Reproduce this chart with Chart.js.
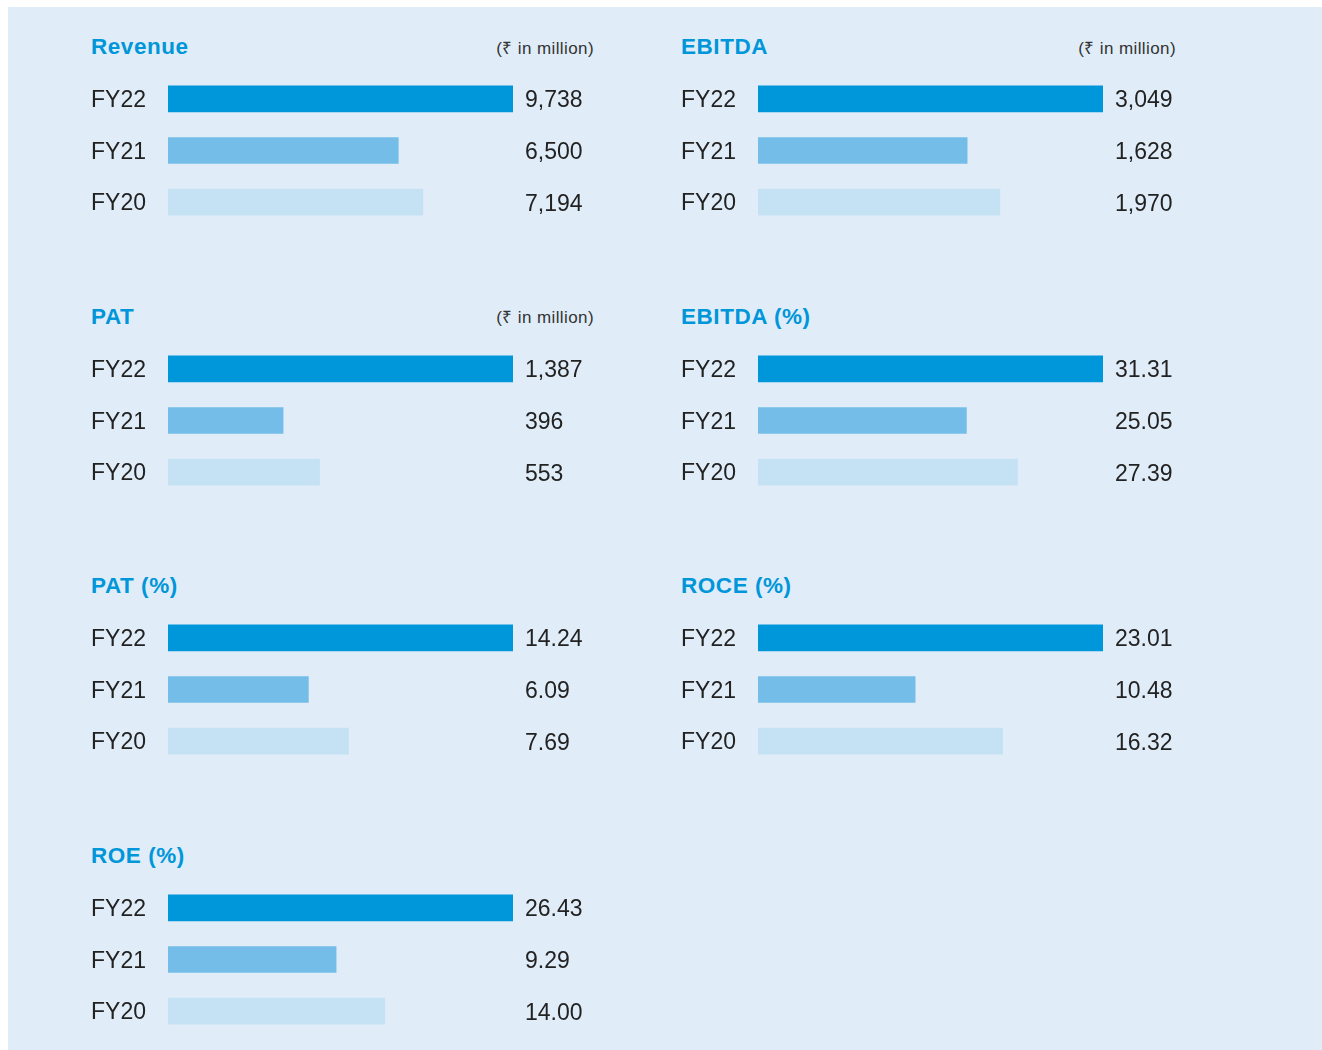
<!DOCTYPE html>
<html><head><meta charset="utf-8">
<script src="https://cdn.jsdelivr.net/npm/chart.js@4"></script>
<style>
html,body{margin:0;padding:0;background:#fff;}
#bg{position:absolute;left:8px;top:7px;width:1314px;height:1043px;background:#E0EDF8;}
.title{position:absolute;font-family:"Liberation Sans";font-weight:bold;font-size:22.5px;line-height:22px;letter-spacing:0.55px;color:#0096DA;white-space:nowrap;}
.unit{position:absolute;font-family:"Liberation Sans";font-size:17px;line-height:17px;letter-spacing:0.4px;color:#333;white-space:nowrap;text-align:right;width:200px;}
canvas{position:absolute;}
</style></head><body>
<div id="bg"></div>
<script>
const categories = ['FY22', 'FY21', 'FY20'];
const revenue = [9738, 6500, 7194];
const ebitda = [3049, 1628, 1970];
const pat = [1387, 396, 553];
const ebitdaPct = [31.31, 25.05, 27.39];
const patPct = [14.24, 6.09, 7.69];
const rocePct = [23.01, 10.48, 16.32];
const roePct = [26.43, 9.29, 14.00];
const unitLabel = '(₹ in million)';

const barColors = ['#0096DA', '#74BDE8', '#C5E1F4'];

// axisMin: lower bound of each panel's value axis (domain setting); bars start there
const panels = [
  {title: 'Revenue', unit: unitLabel, values: revenue, decimals: 0, axisMin: 0, col: 0, row: 0},
  {title: 'EBITDA', unit: unitLabel, values: ebitda, decimals: 0, axisMin: -560, col: 1, row: 0},
  {title: 'PAT', unit: unitLabel, values: pat, decimals: 0, axisMin: -100, col: 0, row: 1},
  {title: 'EBITDA (%)', unit: '', values: ebitdaPct, decimals: 2, axisMin: 15.5, col: 1, row: 1},
  {title: 'PAT (%)', unit: '', values: patPct, decimals: 2, axisMin: 0.5, col: 0, row: 2},
  {title: 'ROCE (%)', unit: '', values: rocePct, decimals: 2, axisMin: 0, col: 1, row: 2},
  {title: 'ROE (%)', unit: '', values: roePct, decimals: 2, axisMin: -7, col: 0, row: 3}
];

const colX = [91, 681];
const unitRight = [594, 1176];
const rowStep = 269.7;

const valueLabels = {
  id: 'valueLabels',
  afterDatasetsDraw(chart, args, opts) {
    const {ctx, chartArea, scales: {y}} = chart;
    const fmt = new Intl.NumberFormat('en-US', {minimumFractionDigits: opts.decimals, maximumFractionDigits: opts.decimals});
    ctx.save();
    ctx.font = '23px "Liberation Sans"';
    ctx.fillStyle = '#222';
    ctx.textAlign = 'left';
    ctx.textBaseline = 'middle';
    chart.data.datasets[0].data.forEach((v, i) => {
      ctx.fillText(fmt.format(v), chartArea.right + 12, y.getPixelForValue(i) + 2);
    });
    ctx.restore();
  }
};

panels.forEach(p => {
  const x0 = colX[p.col];
  const top = 73 + p.row * rowStep;

  const t = document.createElement('div');
  t.className = 'title';
  t.textContent = p.title;
  t.style.left = x0 + 'px';
  t.style.top = (top - 37) + 'px';
  document.body.appendChild(t);

  if (p.unit) {
    const u = document.createElement('div');
    u.className = 'unit';
    u.textContent = p.unit;
    u.style.left = (unitRight[p.col] - 200) + 'px';
    u.style.top = (top - 33.5) + 'px';
    document.body.appendChild(u);
  }

  const c = document.createElement('canvas');
  c.width = 520; c.height = 155;
  c.style.left = x0 + 'px';
  c.style.top = top + 'px';
  c.style.width = '520px'; c.style.height = '155px';
  document.body.appendChild(c);

  new Chart(c, {
    type: 'bar',
    data: {
      labels: categories,
      datasets: [{
        data: p.values,
        base: p.axisMin,
        backgroundColor: barColors,
        borderWidth: 0,
        barThickness: 26
      }]
    },
    options: {
      indexAxis: 'y',
      responsive: false,
      animation: false,
      devicePixelRatio: 1,
      layout: {padding: {left: 0, right: 98, top: 0, bottom: 0}},
      plugins: {
        legend: {display: false},
        tooltip: {enabled: false},
        valueLabels: {decimals: p.decimals}
      },
      scales: {
        x: {display: false, min: p.axisMin, max: Math.max(...p.values)},
        y: {
          grid: {display: false},
          border: {display: false},
          ticks: {
            crossAlign: 'far', padding: 0, autoSkip: false, color: '#222',
            font: {family: 'Liberation Sans', size: 23, lineHeight: 0.17},
            // empty first line nudges the label ~2px down to centre its capitals on the bar
            callback(v) { return ['', this.getLabelForValue(v)]; }
          },
          afterFit(s) { s.width = 77; s.paddingTop = 0; s.paddingBottom = 0; }
        }
      }
    },
    plugins: [valueLabels]
  });
});
</script>
</body></html>
